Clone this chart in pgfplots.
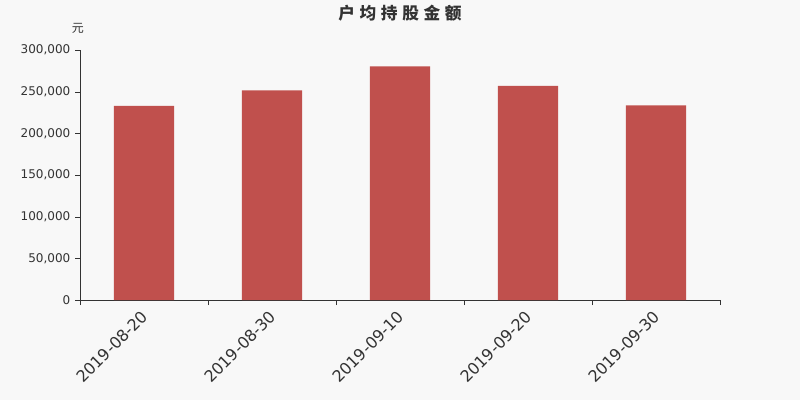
\documentclass[border=0pt]{standalone}
\usepackage{fontspec}
\setmainfont{DejaVu Sans}
\newfontfamily\cjk{Noto Sans CJK SC}
\usepackage{pgfplots}
\pgfplotsset{compat=1.18}
\definecolor{bg}{HTML}{F8F8F8}
\definecolor{barred}{HTML}{C0504D}
\definecolor{txt}{HTML}{333333}

\begin{document}
\begin{tikzpicture}
\fill[bg] (0,0) rectangle (600pt,300pt);
\useasboundingbox (0,0) rectangle (600pt,300pt);
\begin{axis}[
  at={(60pt,75pt)}, anchor=south west,
  scale only axis, width=480pt, height=187.5pt,
  xmin=-0.5, xmax=4.5, ymin=0, ymax=300000,
  axis x line*=bottom, axis y line*=left,
  axis line style={txt}, tick style={txt},
  clip=false,
  ybar, bar width=0.47,
  ytick={0,50000,...,300000},
  scaled y ticks=false,
  /pgf/number format/.cd, fixed, 1000 sep={,}, assume math mode=true, /pgfplots/.cd,
  tick label style={font=\fontsize{9}{10}\selectfont, text=txt},
  xtick={0,...,4},
  xticklabels={2019-08-20,2019-08-30,2019-09-10,2019-09-20,2019-09-30},
  xticklabel style={rotate=45, anchor=north east, inner sep=1.5pt, xshift=-2.5pt, yshift=1pt, font=\fontsize{12}{14}\selectfont},
  major x tick style={draw=none},
  minor xtick={-0.5,0.5,...,4.5},
  major tick length=3.75pt, minor tick length=3.75pt,
  tick align=outside,
]
\addplot[fill=barred, draw=none] coordinates {(0,232800) (1,251600) (2,280400) (3,256800) (4,233600)};
\node[font=\cjk\fontsize{9}{10}\selectfont, text=txt] at (rel axis cs:0,1) [yshift=16.5pt, xshift=-1.5pt] {元};
\node[font=\cjk\bfseries\fontsize{12.5}{14}\selectfont, text=txt] at (rel axis cs:0.5,1) [yshift=28pt]
  {户\hspace{3.5pt}均\hspace{3.5pt}持\hspace{3.5pt}股\hspace{3.5pt}金\hspace{3.5pt}额};
\end{axis}
\end{tikzpicture}
\end{document}
